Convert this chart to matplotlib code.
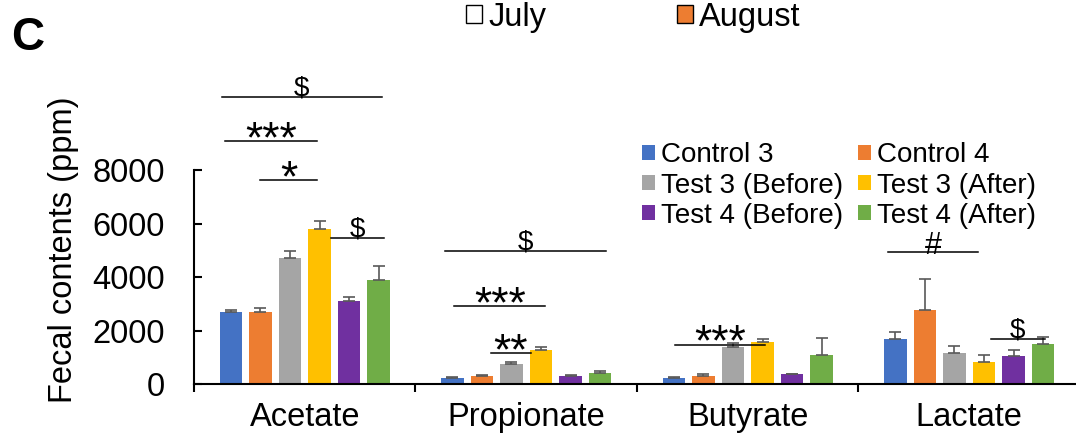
import numpy as np
import matplotlib.pyplot as plt
from matplotlib.patches import Patch

plt.rcParams['font.family'] = ['Liberation Sans', 'DejaVu Sans']

# data (ppm)
acids = ['Acetate', 'Propionate', 'Butyrate', 'Lactate']
groups = ['Control 3', 'Control 4', 'Test 3 (Before)', 'Test 3 (After)',
          'Test 4 (Before)', 'Test 4 (After)']
colors = ['#4472C4', '#ED7D31', '#A5A5A5', '#FFC000', '#7030A0', '#70AD47']

control3 = [2690, 240, 240, 1680]
control4 = [2700, 310, 320, 2760]
test3_before = [4710, 760, 1400, 1160]
test3_after = [5780, 1280, 1570, 845]
test4_before = [3110, 310, 370, 1055]
test4_after = [3880, 410, 1080, 1505]

control3_err = [85, 45, 35, 260]
control4_err = [150, 30, 50, 1180]
test3_before_err = [260, 90, 150, 260]
test3_after_err = [320, 100, 130, 240]
test4_before_err = [150, 40, 30, 225]
test4_after_err = [545, 85, 640, 250]

# significance marks: acid index, from bar / to bar (bar index units), height (ppm), label
sig_acid = [0, 0, 0, 0, 1, 1, 1, 2, 3, 3]
sig_from = [-0.3, -0.2, 1.0, 3.4, -0.25, 0.05, 1.3, 0.05, -0.25, 3.25]
sig_to = [5.1, 2.9, 2.9, 5.2, 5.2, 3.15, 2.65, 3.1, 2.8, 5.05]
sig_y = [10720, 9080, 7610, 5450, 4970, 2920, 1160, 1480, 4945, 1680]
sig_text = ['$', '***', '*', '$', '$', '***', '**', '***', '#', '$']

months = ['July', 'August']
month_colors = ['white', '#ED7D31']

means = [control3, control4, test3_before, test3_after, test4_before, test4_after]
errs = [control3_err, control4_err, test3_before_err, test3_after_err,
        test4_before_err, test4_after_err]

fig = plt.figure(figsize=(10.76, 4.36), dpi=100)
ax = fig.add_axes([0.1803, 0.1186, 0.8234, 0.7373])

x = np.arange(len(acids))
slot = 0.8 / len(groups)
width = 0.1025
for i, (m, e) in enumerate(zip(means, errs)):
    ax.bar(x + (i - 2.5) * slot, m, width, color=colors[i], label=groups[i],
           yerr=[np.zeros(len(e)), e], ecolor='#595959',
           error_kw=dict(elinewidth=1.2, capsize=4, capthick=1.2), zorder=2)

ax.set_xlim(-0.5, 3.5)
ax.set_ylim(0, 12000)
ax.spines['top'].set_visible(False)
ax.spines['right'].set_visible(False)
ax.spines['left'].set_bounds(0, 8000)
for s in ['left', 'bottom']:
    ax.spines[s].set_linewidth(1.5)

ax.set_yticks([0, 2000, 4000, 6000, 8000])
ax.tick_params(axis='y', direction='in', length=6, width=1.5, labelsize=23.5, pad=21)
ax.set_xticks(np.arange(len(acids) + 1) - 0.5)
ax.set_xticklabels([])
ax.tick_params(axis='x', which='major', direction='out', length=6, width=1.5)
ax.set_xticks(x, minor=True)
ax.set_xticklabels(acids, minor=True)
ax.tick_params(axis='x', which='minor', length=0, labelsize=23.5, pad=12.5)

ax.set_ylabel('Fecal contents (ppm)', fontsize=23.5)
ax.yaxis.set_label_coords(-0.13, 0.42)

# significance lines
sig_style = {'$': (20, 1.5), '#': (22, -1.5), '*': (32, -8), '**': (32, -8),
             '***': (32, -8)}
for a, b0, b1, y, t in zip(sig_acid, sig_from, sig_to, sig_y, sig_text):
    x0 = a + (b0 - 2.5) * slot
    x1 = a + (b1 - 2.5) * slot
    ax.plot([x0, x1], [y, y], color='black', lw=1.1, clip_on=False, zorder=3)
    fs, off = sig_style[t]
    ax.annotate(t, xy=((x0 + x1) / 2, y), xytext=(0, off), textcoords='offset points',
                ha='center', va='baseline', fontsize=fs, annotation_clip=False)

# series legend (column-major order like the original)
handles = [Patch(facecolor=c) for c in colors]
order = [0, 2, 4, 1, 3, 5]
ax.legend([handles[k] for k in order], [groups[k] for k in order], ncol=2,
          loc='center left', bbox_to_anchor=(0.5967, 0.5745),
          bbox_transform=fig.transFigure, frameon=False, fontsize=20,
          handlelength=0.47, handleheight=0.47, handletextpad=0.2,
          columnspacing=0.55, labelspacing=0.15, borderpad=0, borderaxespad=0)

# month legend on top
mh = [Patch(facecolor=c, edgecolor='black', linewidth=1.0) for c in month_colors]
fig.legend(mh, months, ncol=2, loc='center left', bbox_to_anchor=(0.433, 0.961),
           frameon=False, fontsize=23.5, handlelength=0.5, handleheight=0.5,
           handletextpad=0.18, columnspacing=4.0, borderpad=0, borderaxespad=0)

fig.text(0.026, 0.913, 'C', fontsize=33, fontweight='bold', ha='center', va='center')

fig.savefig('out.png', dpi=100)
